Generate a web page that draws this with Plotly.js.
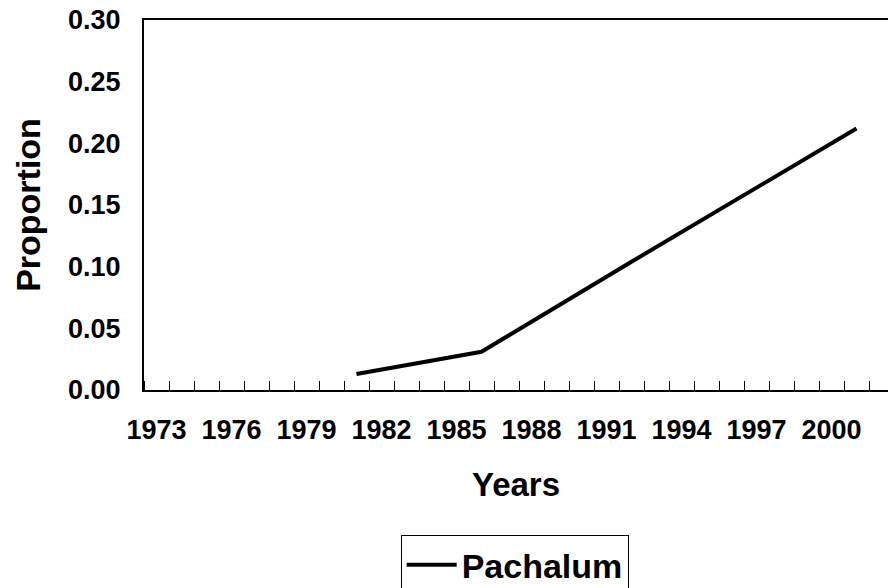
<!DOCTYPE html>
<html>
<head>
<meta charset="utf-8">
<script src="https://cdn.plot.ly/plotly-3.0.1.min.js"></script>
<style>
  html, body { margin: 0; padding: 0; background: #fff; }
  #chart { width: 888px; height: 588px; }
</style>
</head>
<body>
<div id="chart"></div>
<script>
// values
var years = [1981, 1986, 1992, 2001];
var proportion = [0.013, 0.031, 0.104, 0.212];
var labelYears = [1973, 1976, 1979, 1982, 1985, 1988, 1991, 1994, 1997, 2000];

var font = { family: "Liberation Sans, Arial, sans-serif", color: "#000", weight: "bold" };

var trace = {
  x: years,
  y: proportion,
  type: "scatter",
  mode: "lines",
  name: "Pachalum",
  line: { color: "#000", width: 4 },
};

var layout = {
  width: 888,
  height: 588,
  margin: { l: 144, r: 0, t: 20, b: 198, autoexpand: false },
  paper_bgcolor: "#fff",
  plot_bgcolor: "#fff",
  showlegend: true,
  xaxis: {
    range: [1972.5, 2002.26],
    showgrid: false,
    zeroline: false,
    showline: true,
    linecolor: "#000",
    linewidth: 2,
    mirror: true,
    tickmode: "array",
    tickvals: labelYears,
    ticks: "",
    ticklabelstandoff: 15,
    tickfont: Object.assign({ size: 27 }, font),
    minor: {
      tickmode: "linear",
      tick0: 1972.5,
      dtick: 1,
      ticks: "inside",
      ticklen: 9,
      tickwidth: 1,
      tickcolor: "#000",
      showgrid: false,
    },
    title: { text: "Years", font: Object.assign({ size: 33 }, font), standoff: 28 },
  },
  yaxis: {
    range: [0, 0.3],
    dtick: 0.05,
    tickformat: ".2f",
    showgrid: false,
    zeroline: false,
    showline: true,
    linecolor: "#000",
    linewidth: 2,
    ticks: "",
    ticklabelstandoff: 16,
    tickfont: Object.assign({ size: 27 }, font),
    title: { text: "Proportion", font: Object.assign({ size: 34 }, font), standoff: 17 },
  },
  legend: {
    x: 0.345,
    y: -0.392,
    xanchor: "left",
    yanchor: "top",
    itemwidth: 50,
    bordercolor: "#000",
    borderwidth: 1,
    bgcolor: "#fff",
    font: Object.assign({ size: 34 }, font),
  },
};

Plotly.newPlot("chart", [trace], layout, { displayModeBar: false, staticPlot: true });
</script>
</body>
</html>
